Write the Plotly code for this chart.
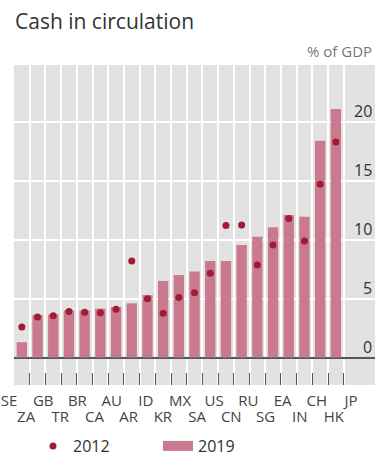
import plotly.graph_objects as go

# Cash in circulation, % of GDP
countries = ["SE", "ZA", "GB", "TR", "BR", "CA", "AU", "AR", "ID", "KR", "MX",
             "SA", "US", "CN", "RU", "SG", "EA", "IN", "CH", "HK", "JP"]
cash_2019 = [1.3, 3.6, 3.65, 4.0, 4.0, 4.15, 4.3, 4.6, 5.3, 6.5, 7.0,
             7.3, 8.2, 8.2, 9.55, 10.25, 11.05, 12.1, 11.95, 18.4, 21.1]
cash_2012 = [2.6, 3.45, 3.55, 3.9, 3.85, 3.8, 4.1, 8.2, 5.0, 3.75, 5.1,
             5.5, 7.15, 11.2, 11.25, 7.85, 9.55, 11.8, 9.9, 14.7, 18.3]
y_ticks = [0, 5, 10, 15, 20]

W, H = 375, 463
FONT = "Open Sans, Noto Sans, sans-serif"
BAR = "#c97a8f"
DOT = "#a01c34"
PANEL = "#e2e2e2"

pos = list(range(len(countries)))
n = len(countries)
even = pos[0::2]
odd = pos[1::2]

fig = go.Figure()

fig.add_trace(go.Bar(
    x=pos, y=cash_2019, width=0.66, marker=dict(color=BAR, line=dict(width=0)),
    name="2019", showlegend=False, xaxis="x", yaxis="y",
))
fig.add_trace(go.Scatter(
    x=pos, y=cash_2012, mode="markers", name="2012",
    marker=dict(color=DOT, size=7), xaxis="x", yaxis="y",
))
# legend swatch for the bars
fig.add_trace(go.Scatter(
    x=[None], y=[None], mode="lines", name="2019",
    line=dict(color=BAR, width=10), xaxis="x", yaxis="y",
))
# carriers for the two staggered rows of country labels
for ax in ("x2", "x3"):
    fig.add_trace(go.Scatter(
        x=pos, y=[0] * n, mode="markers", marker=dict(opacity=0),
        showlegend=False, hoverinfo="skip", xaxis=ax, yaxis="y2",
    ))

px_l, px_top, px_bot = 14, 65, 385
ydom = [(H - px_bot) / H, (H - px_top) / H]
cat_px = 15.7
x_hi = -0.5 + (W - px_l) / cat_px
y_lo, y_hi = -2.33, 24.83

lab_px0, lab_step = 9.0, 17.1
lab_range = [-lab_px0 / lab_step, (W - lab_px0) / lab_step]


def label_axis(vals, standoff):
    return dict(
        domain=[0, 1], range=lab_range,
        tickmode="array", tickvals=vals, ticktext=[countries[i] for i in vals],
        tickangle=0, ticks="", showgrid=False, zeroline=False, showline=False,
        tickfont=dict(size=15, color="#444"), anchor="y2",
        ticklabelstandoff=standoff, ticklabeloverflow="allow",
    )


fig.update_layout(
    width=W, height=H,
    margin=dict(l=0, r=0, t=0, b=0, autoexpand=False),
    paper_bgcolor="white",
    plot_bgcolor="rgba(0,0,0,0)",
    font=dict(family=FONT, color="#444"),
    title=dict(text="Cash in circulation", x=15 / W, xanchor="left",
               y=1 - 22 / H, yanchor="middle",
               font=dict(size=21, color="#333", family=FONT)),
    xaxis=dict(
        domain=[px_l / W, 1], range=[-0.5, x_hi],
        tickmode="array", tickvals=[i - 0.5 for i in range(n + 1)],
        showticklabels=False, showgrid=True, gridcolor="white", gridwidth=1.5,
        ticks="inside", ticklen=12, tickwidth=1.3, tickcolor="#555",
        zeroline=False, showline=False, anchor="y",
    ),
    yaxis=dict(
        domain=ydom, range=[y_lo, y_hi],
        tickmode="array", tickvals=y_ticks[1:], showticklabels=False,
        showgrid=True, gridcolor="white", gridwidth=1.5,
        zeroline=True, zerolinecolor="#555", zerolinewidth=1.5,
        showline=False, anchor="x",
    ),
    xaxis2=label_axis(even, 5),
    xaxis3=label_axis(odd, 21),
    yaxis2=dict(domain=ydom, range=[0, 1], visible=False, anchor="x2"),
    legend=dict(
        orientation="h", x=33 / W, xanchor="left", y=(H - 446) / H,
        yanchor="middle", font=dict(size=16, color="#333"),
        entrywidth=80, bgcolor="rgba(0,0,0,0)",
    ),
    shapes=[dict(type="rect", xref="paper", yref="paper",
                 x0=px_l / W, x1=1, y0=ydom[0], y1=ydom[1],
                 fillcolor=PANEL, line=dict(width=0), layer="below")],
)

# value labels sit just above their gridlines, at the right edge
for v in y_ticks:
    fig.add_annotation(x=1, xref="paper", y=v, yref="y",
                       text=str(v), showarrow=False, xanchor="right",
                       yanchor="middle", yshift=11, xshift=-1,
                       font=dict(size=16, color="#333", family=FONT))

fig.add_annotation(x=1, xref="paper", y=1 - 51 / H, yref="paper",
                   text="% of GDP", showarrow=False, xanchor="right",
                   yanchor="middle", xshift=-1,
                   font=dict(size=15, color="#777", family=FONT))

fig.write_html("out.html")
